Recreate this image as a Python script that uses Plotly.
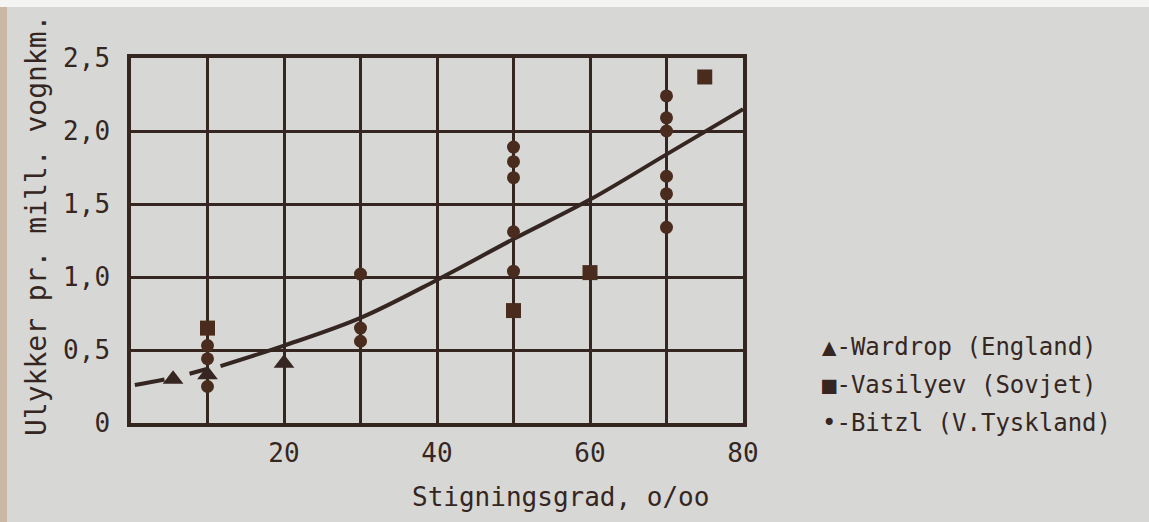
import plotly.graph_objects as go

# ---- data ----
curve_x = [0.5, 5.5, 10.3, 11.7, 20, 30, 40, 50, 60, 70, 80]
curve_y = [0.26, 0.31, 0.375, 0.39, 0.53, 0.72, 0.98, 1.26, 1.53, 1.84, 2.15]
dash_end = 3  # first points drawn dashed, the rest solid

wardrop_x = [5.5, 10, 20]
wardrop_y = [0.30, 0.33, 0.41]

vasilyev_x = [10, 50, 60, 75]
vasilyev_y = [0.65, 0.77, 1.03, 2.37]

bitzl_x = [10, 10, 10, 30, 30, 30, 50, 50, 50, 50, 50, 70, 70, 70, 70, 70, 70]
bitzl_y = [0.53, 0.44, 0.25, 1.02, 0.65, 0.56, 1.89, 1.79, 1.68, 1.31, 1.04,
           2.24, 2.09, 2.00, 1.69, 1.57, 1.34]

x_tickvals = [0, 10, 20, 30, 40, 50, 60, 70, 80]
x_ticktext = ["", "", "20", "", "40", "", "60", "", "80"]
y_tickvals = [0, 0.5, 1.0, 1.5, 2.0, 2.5]
y_ticktext = ["0", "0,5", "1,0", "1,5", "2,0", "2,5"]

legend_labels = ["▲-Wardrop (England)", "■-Vasilyev (Sovjet)", "•-Bitzl (V.Tyskland)"]

x_title = "Stigningsgrad, o/oo"
y_title = "Ulykker pr. mill. vognkm."

# ---- styling ----
INK = "#352622"
MARK = "#4a2c1f"
PAPER = "#d7d8d5"
FONT = "DejaVu Sans Mono"

W, H = 1149, 522
L, R, T, B = 131, 406, 58, 99
pw, ph = W - L - R, H - T - B

fig = go.Figure()

fig.add_trace(go.Scatter(
    x=curve_x[:dash_end], y=curve_y[:dash_end], mode="lines",
    line=dict(color=INK, width=4, dash="30px,26px,18px,40px", shape="spline"),
    showlegend=False, hoverinfo="skip"))
fig.add_trace(go.Scatter(
    x=curve_x[dash_end:], y=curve_y[dash_end:], mode="lines",
    line=dict(color=INK, width=4, shape="spline"),
    showlegend=False, hoverinfo="skip"))

fig.add_trace(go.Scatter(
    x=bitzl_x, y=bitzl_y, mode="markers", name="Bitzl (V.Tyskland)",
    marker=dict(symbol="circle", size=13, color=MARK), showlegend=False))
fig.add_trace(go.Scatter(
    x=vasilyev_x, y=vasilyev_y, mode="markers", name="Vasilyev (Sovjet)",
    marker=dict(symbol="square", size=15, color=MARK), showlegend=False))
fig.add_trace(go.Scatter(
    x=wardrop_x, y=wardrop_y, mode="markers", name="Wardrop (England)",
    marker=dict(symbol="triangle-up", size=18, color=INK), showlegend=False))


def px_x(p):
    return (p - L) / pw


def px_y(p):
    return (H - B - p) / ph


annotations = []
legend_rows = [347, 385, 423]
for lab, yy in zip(legend_labels, legend_rows):
    annotations.append(dict(
        text=lab, xref="paper", yref="paper", x=px_x(820), y=px_y(yy),
        xanchor="left", yanchor="middle", showarrow=False,
        font=dict(family=FONT, size=24, color=INK)))

annotations.append(dict(
    text=x_title, xref="paper", yref="paper", x=px_x(560), y=px_y(497),
    xanchor="center", yanchor="middle", showarrow=False,
    font=dict(family=FONT, size=26, color=INK)))
annotations.append(dict(
    text=y_title, xref="paper", yref="paper", x=px_x(36), y=px_y(226),
    xanchor="center", yanchor="middle", showarrow=False, textangle=-90,
    font=dict(family=FONT, size=28, color=INK)))

shapes = [
    # white strip at the top of the photo
    dict(type="rect", xref="paper", yref="paper", x0=px_x(0), x1=px_x(W),
         y0=px_y(7), y1=px_y(0), fillcolor="#f4f4f2", line=dict(width=0),
         layer="below"),
    # beige strip at the left edge
    dict(type="rect", xref="paper", yref="paper", x0=px_x(0), x1=px_x(7),
         y0=px_y(H), y1=px_y(7), fillcolor="#c9b9a4", line=dict(width=0),
         layer="below"),
]

fig.update_layout(
    width=W, height=H,
    margin=dict(l=L, r=R, t=T, b=B),
    paper_bgcolor=PAPER, plot_bgcolor=PAPER,
    font=dict(family=FONT, color=INK),
    annotations=annotations, shapes=shapes,
    showlegend=False,
)
fig.update_xaxes(
    range=[0, 80], tickvals=x_tickvals, ticktext=x_ticktext,
    showgrid=True, gridcolor=INK, gridwidth=2.5,
    showline=True, linecolor=INK, linewidth=3.5, mirror=True,
    zeroline=False, ticks="", ticklabelstandoff=4,
    tickfont=dict(family=FONT, size=26, color=INK))
fig.update_yaxes(
    range=[0, 2.5], tickvals=y_tickvals, ticktext=y_ticktext,
    showgrid=True, gridcolor=INK, gridwidth=2.5,
    showline=True, linecolor=INK, linewidth=3.5, mirror=True,
    zeroline=False, ticks="", ticklabelstandoff=12,
    tickfont=dict(family=FONT, size=26, color=INK))

fig.write_html(
    "out.html",
    config={"displayModeBar": False},
    post_script="document.body.style.margin='0';document.body.style.overflow='hidden';")
